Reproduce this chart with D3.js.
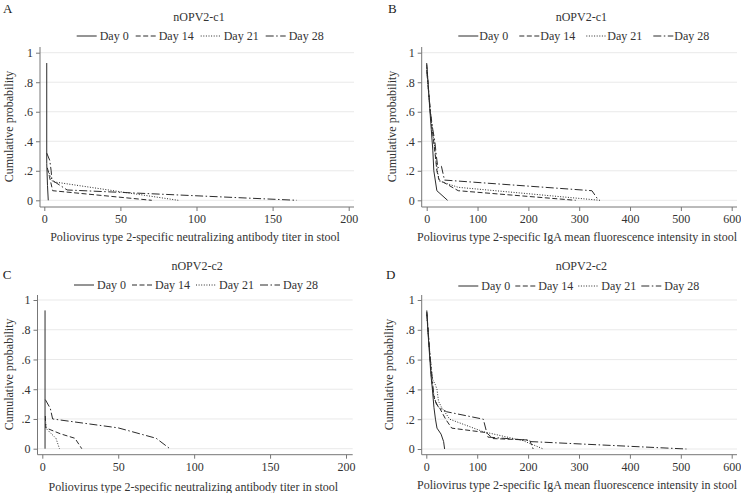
<!DOCTYPE html>
<html>
<head>
<meta charset="utf-8">
<script src="https://cdn.jsdelivr.net/npm/d3@7"></script>
<style>
  html, body { margin: 0; padding: 0; background: #fff; }
  svg { display: block; font-family: "Liberation Serif", "DejaVu Serif", serif; }
</style>
</head>
<body>
<svg id="chart" width="741" height="493"></svg>
<script>
// ---------- data ----------
const categories = ["Day 0", "Day 14", "Day 21", "Day 28"];
const yTicks = [0, 0.2, 0.4, 0.6, 0.8, 1];
const yTickLabels = ["0", ".2", ".4", ".6", ".8", "1"];
const xTicksTiter = [0, 50, 100, 150, 200];
const xTicksIgA = [0, 100, 200, 300, 400, 500, 600];
const panelLetters = ["A", "B", "C", "D"];
const panelTitles = ["nOPV2-c1", "nOPV2-c1", "nOPV2-c2", "nOPV2-c2"];
const xTitleTiter = "Poliovirus type 2-specific neutralizing antibody titer in stool";
const xTitleIgA = "Poliovirus type 2-specific IgA mean fluorescence intensity in stool";
const yTitle = "Cumulative probability";

// Panel A: nOPV2-c1, neutralizing titer  ([x, cumulative probability])
const a_day0  = [[1.6, 0.93], [1.6, 0.25], [2.1, 0.1], [2.6, 0]];
const a_day14 = [[2.0, 0.22], [3.4, 0.16], [5.5, 0.065], [70.6, 0]];
const a_day21 = [[2.6, 0.2], [5.5, 0.126], [88, 0]];
const a_day28 = [[1.6, 0.32], [3.6, 0.27], [4.5, 0.2], [5, 0.137], [15, 0.07], [166, 0]];

// Panel B: nOPV2-c1, IgA MFI
const b_day0  = [[0, 0.93], [3, 0.78], [6, 0.62], [9, 0.48], [12, 0.34], [14, 0.2], [20, 0.065], [41, 0]];
const b_day14 = [[0, 0.92], [3, 0.78], [7, 0.6], [10, 0.5], [13, 0.42], [17, 0.3], [20, 0.2], [24, 0.14], [62, 0.065], [293, 0]];
const b_day21 = [[0, 0.9], [3, 0.76], [7, 0.6], [11, 0.48], [15, 0.38], [18, 0.28], [21, 0.2], [25, 0.13], [62, 0.088], [341, 0]];
const b_day28 = [[0, 0.88], [4, 0.72], [8, 0.58], [12, 0.48], [16, 0.4], [19, 0.3], [22, 0.22], [29, 0.23], [35, 0.137], [325, 0.065], [338, 0]];

// Panel C: nOPV2-c2, neutralizing titer
const c_day0  = [[1.8, 0.93], [1.8, 0]];
const c_day14 = [[2.0, 0.22], [2.3, 0.14], [12, 0.1], [21.5, 0.07], [26, 0]];
const c_day21 = [[2.0, 0.2], [2.6, 0.135], [6, 0.1], [9, 0.07], [11.3, 0]];
const c_day28 = [[2.0, 0.33], [5.3, 0.27], [6.8, 0.2], [50, 0.14], [75, 0.07], [84, 0]];

// Panel D: nOPV2-c2, IgA MFI
const d_day0  = [[1, 0.93], [3, 0.8], [6, 0.65], [9, 0.5], [12, 0.4], [15, 0.28], [18, 0.2], [21, 0.14], [29, 0.1], [34, 0.05], [36, 0]];
const d_day14 = [[1, 0.92], [4, 0.78], [7, 0.62], [11, 0.45], [15, 0.35], [20, 0.3], [27, 0.27], [38, 0.2], [50, 0.14], [118, 0.11], [131, 0.07], [203, 0.06], [210, 0]];
const d_day21 = [[1, 0.9], [4, 0.76], [8, 0.6], [12, 0.47], [18, 0.43], [21, 0.4], [24, 0.32], [30, 0.28], [46, 0.2], [112, 0.116], [190, 0.056], [230, 0]];
const d_day28 = [[1, 0.91], [4, 0.77], [8, 0.6], [11, 0.5], [14, 0.38], [18, 0.32], [24, 0.28], [40, 0.25], [112, 0.2], [121, 0.08], [197, 0.06], [203, 0.05], [511, 0]];

// ---------- layout / style ----------
const dashes = [null, "5,2.5", "1,1.6", "8,2.5,1.5,2.5"];
const lineColor = "#2b2b2b";

const panels = [
  { letter: panelLetters[0], title: panelTitles[0], xTitle: xTitleTiter, xTicks: xTicksTiter, series: [a_day0, a_day14, a_day21, a_day28],
    xr: [44.3, 348.7], yr: [200.3, 52.7], reg: { l: 40, r: 354, t: 47, b: 207 },
    letterPos: [3, 13], titleY: 21, legY: 40, legX: 76.7, legGap1: 3, legGap2: 7,
    yTitleX: 12.5, xTitleX: 195, xTitleY: 241, xTickY: 223 },
  { letter: panelLetters[1], title: panelTitles[1], xTitle: xTitleIgA, xTicks: xTicksIgA, series: [b_day0, b_day14, b_day21, b_day28],
    xr: [426.7, 731.7], yr: [200.3, 52.7], reg: { l: 421.7, r: 737, t: 47, b: 207 },
    letterPos: [388, 12.7], titleY: 21, legY: 40, legX: 458.3, legGap1: 1, legGap2: 11,
    yTitleX: 395.5, xTitleX: 577, xTitleY: 241, xTickY: 223 },
  { letter: panelLetters[2], title: panelTitles[2], xTitle: xTitleTiter, xTicks: xTicksTiter, series: [c_day0, c_day14, c_day21, c_day28],
    xr: [42.3, 346], yr: [448.7, 300], reg: { l: 37.5, r: 352.7, t: 295, b: 454.7 },
    letterPos: [2.7, 279], titleY: 269.5, legY: 289, legX: 74, legGap1: 3, legGap2: 6,
    yTitleX: 12.5, xTitleX: 193.3, xTitleY: 491, xTickY: 471.5 },
  { letter: panelLetters[3], title: panelTitles[3], xTitle: xTitleIgA, xTicks: xTicksIgA, series: [d_day0, d_day14, d_day21, d_day28],
    xr: [426.3, 731.7], yr: [449, 300], reg: { l: 421.7, r: 737, t: 295, b: 454.7 },
    letterPos: [386, 279], titleY: 269.5, legY: 290, legX: 458.3, legGap1: 3, legGap2: 5,
    yTitleX: 393, xTitleX: 577, xTitleY: 488.5, xTickY: 471.5 }
];

const svg = d3.select("#chart");

panels.forEach((p, pi) => {
  const xDomain = [p.xTicks[0], p.xTicks[p.xTicks.length - 1]];
  const x = d3.scaleLinear().domain(xDomain).range(p.xr);
  const y = d3.scaleLinear().domain([0, 1]).range(p.yr);
  const g = svg.append("g");

  // gridlines
  g.append("g").selectAll("line").data(yTicks).join("line")
    .attr("x1", p.reg.l).attr("x2", p.reg.r)
    .attr("y1", d => y(d)).attr("y2", d => y(d))
    .attr("stroke", "#e9e9e9").attr("stroke-width", 1);

  // y axis
  const yAxis = d3.axisLeft(y).tickValues(yTicks).tickFormat((d, i) => yTickLabels[i]).tickSize(4).tickPadding(3);
  const ya = g.append("g").attr("transform", `translate(${p.reg.l},0)`).call(yAxis);
  ya.select(".domain").remove();
  ya.selectAll(".tick line").attr("stroke", "#777");
  ya.selectAll(".tick text").attr("font-family", "Liberation Serif").attr("font-size", 12).attr("fill", "#333");
  g.append("line").attr("x1", p.reg.l).attr("x2", p.reg.l).attr("y1", p.reg.t).attr("y2", p.reg.b)
    .attr("stroke", "#777").attr("stroke-width", 1);

  // x axis
  const xAxis = d3.axisBottom(x).tickValues(p.xTicks).tickFormat(d3.format("d")).tickSize(4).tickPadding(5);
  const xa = g.append("g").attr("transform", `translate(0,${p.reg.b})`).call(xAxis);
  xa.select(".domain").remove();
  xa.selectAll(".tick line").attr("stroke", "#777");
  xa.selectAll(".tick text").attr("font-family", "Liberation Serif").attr("font-size", 12).attr("fill", "#333")
    .attr("dy", null).attr("y", p.xTickY - p.reg.b);
  g.append("line").attr("x1", p.reg.l).attr("x2", p.reg.r).attr("y1", p.reg.b).attr("y2", p.reg.b)
    .attr("stroke", "#777").attr("stroke-width", 1);

  // series lines
  const line = d3.line().x(d => x(d[0])).y(d => y(d[1]));
  p.series.forEach((s, si) => {
    g.append("path").datum(s).attr("d", line)
      .attr("fill", "none").attr("stroke", lineColor).attr("stroke-width", 1)
      .attr("stroke-dasharray", dashes[si]);
  });

  // texts
  g.append("text").attr("x", p.letterPos[0]).attr("y", p.letterPos[1])
    .attr("font-size", 13).attr("fill", "#222").text(p.letter);
  g.append("text").attr("x", (p.reg.l + p.reg.r) / 2 + 2).attr("y", p.titleY)
    .attr("text-anchor", "middle").attr("font-size", 12).attr("fill", "#333").text(p.title);
  g.append("text").attr("x", p.xTitleX).attr("y", p.xTitleY)
    .attr("text-anchor", "middle").attr("font-size", 12).attr("fill", "#333").text(p.xTitle);
  g.append("text").attr("transform", `translate(${p.yTitleX},${(p.yr[0] + p.yr[1]) / 2}) rotate(-90)`)
    .attr("text-anchor", "middle").attr("font-size", 12).attr("fill", "#333").text(yTitle);

  // legend
  let lx = p.legX;
  categories.forEach((c, ci) => {
    g.append("line").attr("x1", lx).attr("x2", lx + 20).attr("y1", p.legY - 4).attr("y2", p.legY - 4)
      .attr("stroke", lineColor).attr("stroke-width", 1).attr("stroke-dasharray", dashes[ci]);
    lx += 20 + p.legGap1;
    const t = g.append("text").attr("x", lx).attr("y", p.legY).attr("font-size", 12).attr("fill", "#333").text(c);
    lx += t.node().getComputedTextLength() + p.legGap2;
  });
});
</script>
</body>
</html>
